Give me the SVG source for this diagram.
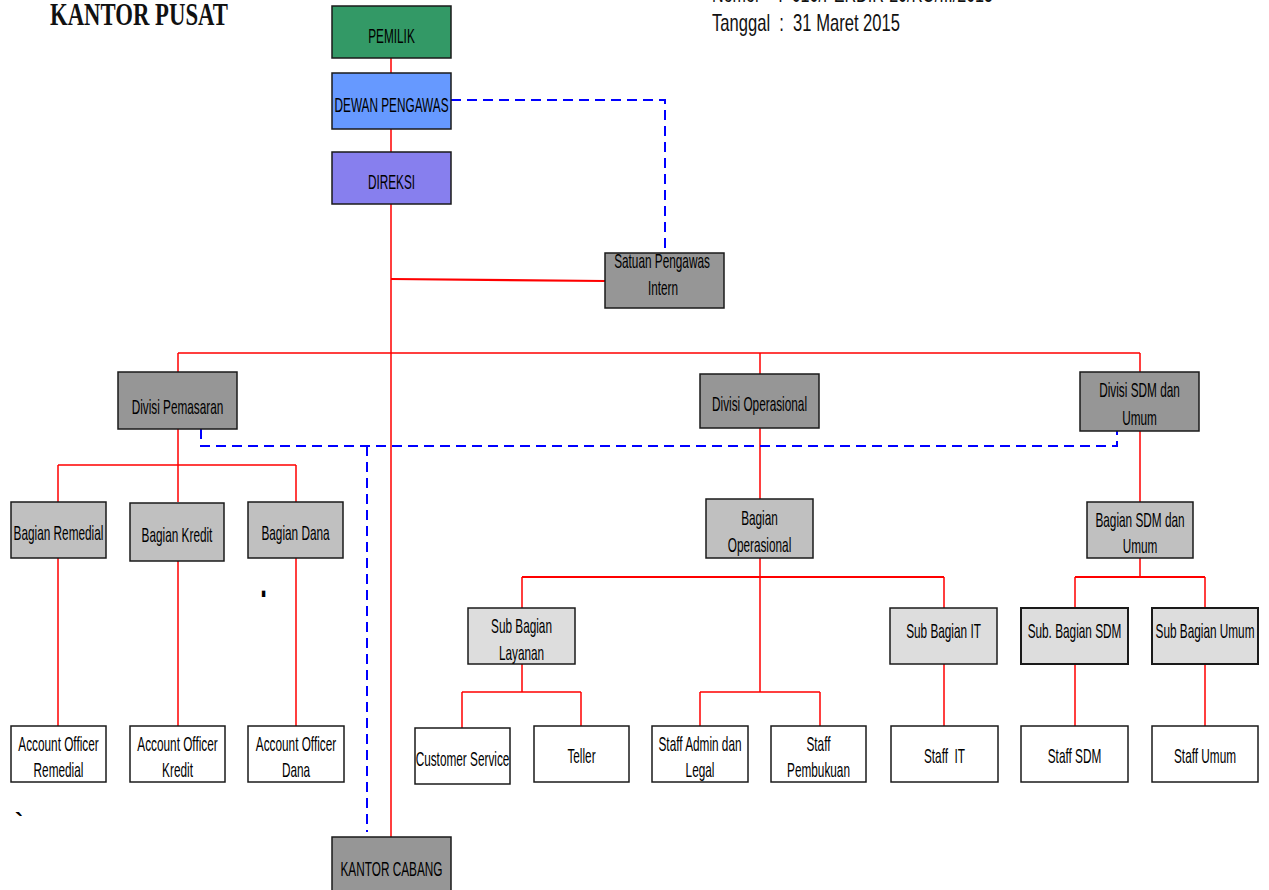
<svg xmlns="http://www.w3.org/2000/svg" width="1269" height="890" viewBox="0 0 1269 890">
<style>
.box{stroke:#1a1a1a;stroke-width:1.5}
.g1{fill:#969696}.g2{fill:#C0C0C0}.g3{fill:#DDDDDD}.w{fill:#FFFFFF}
.t{font-family:"Liberation Sans",Arial,sans-serif;font-size:20px;fill:#000;text-anchor:middle}
.red{stroke:#FF0000;stroke-width:1.5;fill:none}
.red2{stroke:#FF0000;stroke-width:2.2;fill:none}
.blue{stroke:#0000FF;stroke-width:2;fill:none;stroke-dasharray:10 6}
.hdr{font-family:"Liberation Sans",Arial,sans-serif;font-size:24px;fill:#111;white-space:pre}
</style>
<rect width="1269" height="890" fill="#FFFFFF"/>
<text x="50" y="25" font-family="Liberation Serif,Times New Roman,serif" font-weight="bold" font-size="31" fill="#111" textLength="178" lengthAdjust="spacingAndGlyphs">KANTOR PUSAT</text>
<text class="hdr" x="712" y="2" textLength="281" lengthAdjust="spacingAndGlyphs">Nomor    :  010/PERDIR-20/KO/III/2015</text>
<text class="hdr" x="712" y="31" textLength="188" lengthAdjust="spacingAndGlyphs">Tanggal  :  31 Maret 2015</text>
<text x="263.5" y="597" font-family="Liberation Sans,Arial,sans-serif" font-size="30" font-weight="bold" fill="#000" text-anchor="middle" transform="translate(263.5,597) scale(0.8,1.4) translate(-263.5,-597)">.</text>
<text x="19" y="830" font-family="Liberation Sans,Arial,sans-serif" font-size="24" font-weight="bold" fill="#000" text-anchor="middle">`</text>
<g id="connectors">
<path class="red" d="M391 58V73M391 129V152M391 204V837"/>
<path class="red2" d="M391 279L605 281"/>
<path class="red" d="M178 353H1140M178 353V372M760 353V374M1140 353V372"/>
<path class="red" d="M178 429V502M58 465H296M58 465V502M296 465V502"/>
<path class="red" d="M58 558V726M178 561V726M296 558V726"/>
<path class="red" d="M760 428V499M760 558V692"/>
<path class="red2" d="M522 577H944"/>
<path class="red" d="M522 577V608M944 577V608"/>
<path class="red" d="M522 664V692M462 692H581M462 692V728M581 692V726"/>
<path class="red" d="M700 692H820M700 692V726M820 692V726"/>
<path class="red" d="M944 664V726"/>
<path class="red" d="M1140 431V502M1140 558V577"/>
<path class="red2" d="M1075 577H1205"/>
<path class="red" d="M1075 577V608M1205 577V608M1075 664V726M1205 664V726"/>
<path class="blue" d="M451 100H665V253"/>
<path class="blue" d="M201 429V446H1117V431"/>
<path class="blue" d="M367 446V832"/>
</g>
<g id="pemilik"><rect class="box" x="332" y="6" width="119" height="52" fill="#339966"/><text class="t" transform="translate(391.5,43) scale(0.59,1)">PEMILIK</text></g>
<g id="dewan-pengawas"><rect class="box" x="332" y="73" width="119" height="56" fill="#6699FF"/><text class="t" transform="translate(391.5,112) scale(0.59,1)">DEWAN PENGAWAS</text></g>
<g id="direksi"><rect class="box" x="332" y="152" width="119" height="52" fill="#877FEE"/><text class="t" transform="translate(391.5,189) scale(0.59,1)">DIREKSI</text></g>
<g id="satuan-pengawas-intern"><rect class="box g1" x="605" y="253" width="119" height="55"/><text class="t" transform="translate(662,268) scale(0.59,1)">Satuan Pengawas</text><text class="t" transform="translate(663,295) scale(0.59,1)">Intern</text></g>
<g id="divisi-pemasaran"><rect class="box g1" x="118" y="372" width="119" height="57"/><text class="t" transform="translate(177.5,414) scale(0.59,1)">Divisi Pemasaran</text></g>
<g id="divisi-operasional"><rect class="box g1" x="700" y="374" width="119" height="54"/><text class="t" transform="translate(759.5,411) scale(0.59,1)">Divisi Operasional</text></g>
<g id="divisi-sdm"><rect class="box g1" x="1080" y="372" width="119" height="59"/><text class="t" transform="translate(1139.5,397) scale(0.59,1)">Divisi SDM dan</text><text class="t" transform="translate(1139.5,425) scale(0.59,1)">Umum</text></g>
<g id="bagian-remedial"><rect class="box g2" x="11" y="502" width="95" height="56"/><text class="t" transform="translate(58.5,540) scale(0.59,1)">Bagian Remedial</text></g>
<g id="bagian-kredit"><rect class="box g2" x="130" y="503" width="94" height="58"/><text class="t" transform="translate(177,542) scale(0.59,1)">Bagian Kredit</text></g>
<g id="bagian-dana"><rect class="box g2" x="248" y="502" width="95" height="56"/><text class="t" transform="translate(295.5,540) scale(0.59,1)">Bagian Dana</text></g>
<g id="bagian-operasional"><rect class="box g2" x="706" y="499" width="107" height="59"/><text class="t" transform="translate(759.5,525) scale(0.59,1)">Bagian</text><text class="t" transform="translate(759.5,552) scale(0.59,1)">Operasional</text></g>
<g id="bagian-sdm"><rect class="box g2" x="1087" y="502" width="106" height="56"/><text class="t" transform="translate(1140,527) scale(0.59,1)">Bagian SDM dan</text><text class="t" transform="translate(1140,553) scale(0.59,1)">Umum</text></g>
<g id="sub-layanan"><rect class="box g3" x="468" y="608" width="107" height="56"/><text class="t" transform="translate(521.5,633) scale(0.59,1)">Sub Bagian</text><text class="t" transform="translate(521.5,660) scale(0.59,1)">Layanan</text></g>
<g id="sub-it"><rect class="box g3" x="890" y="608" width="107" height="56"/><text class="t" transform="translate(943.5,638) scale(0.59,1)">Sub Bagian IT</text></g>
<g id="sub-sdm"><rect class="box g3" x="1021" y="608" width="107" height="56" style="stroke-width:2"/><text class="t" transform="translate(1074.5,638) scale(0.59,1)">Sub. Bagian SDM</text></g>
<g id="sub-umum"><rect class="box g3" x="1152" y="608" width="106" height="56" style="stroke-width:2"/><text class="t" transform="translate(1205,638) scale(0.59,1)">Sub Bagian Umum</text></g>
<g id="ao-remedial"><rect class="box w" x="11" y="726" width="95" height="56"/><text class="t" transform="translate(58.5,751) scale(0.59,1)">Account Officer</text><text class="t" transform="translate(58.5,777) scale(0.59,1)">Remedial</text></g>
<g id="ao-kredit"><rect class="box w" x="130" y="726" width="95" height="56"/><text class="t" transform="translate(177.5,751) scale(0.59,1)">Account Officer</text><text class="t" transform="translate(177.5,777) scale(0.59,1)">Kredit</text></g>
<g id="ao-dana"><rect class="box w" x="248" y="726" width="96" height="56"/><text class="t" transform="translate(296,751) scale(0.59,1)">Account Officer</text><text class="t" transform="translate(296,777) scale(0.59,1)">Dana</text></g>
<g id="customer-service"><rect class="box w" x="415" y="728" width="95" height="56"/><text class="t" transform="translate(462.5,766) scale(0.59,1)">Customer Service</text></g>
<g id="teller"><rect class="box w" x="534" y="726" width="95" height="56"/><text class="t" transform="translate(581.5,763) scale(0.59,1)">Teller</text></g>
<g id="staff-admin"><rect class="box w" x="652" y="726" width="96" height="56"/><text class="t" transform="translate(700,751) scale(0.59,1)">Staff Admin dan</text><text class="t" transform="translate(700,777) scale(0.59,1)">Legal</text></g>
<g id="staff-pembukuan"><rect class="box w" x="771" y="726" width="95" height="56"/><text class="t" transform="translate(818.5,751) scale(0.59,1)">Staff</text><text class="t" transform="translate(818.5,777) scale(0.59,1)">Pembukuan</text></g>
<g id="staff-it"><rect class="box w" x="891" y="726" width="107" height="56"/><text class="t" transform="translate(944.5,763) scale(0.59,1)" style="white-space:pre">Staff  IT</text></g>
<g id="staff-sdm"><rect class="box w" x="1021" y="726" width="107" height="56"/><text class="t" transform="translate(1074.5,763) scale(0.59,1)">Staff SDM</text></g>
<g id="staff-umum"><rect class="box w" x="1152" y="726" width="106" height="56"/><text class="t" transform="translate(1205,763) scale(0.59,1)">Staff Umum</text></g>
<g id="kantor-cabang"><rect class="box g1" x="332" y="837" width="119" height="60"/><text class="t" transform="translate(391.5,876) scale(0.59,1)">KANTOR CABANG</text></g>
</svg>
